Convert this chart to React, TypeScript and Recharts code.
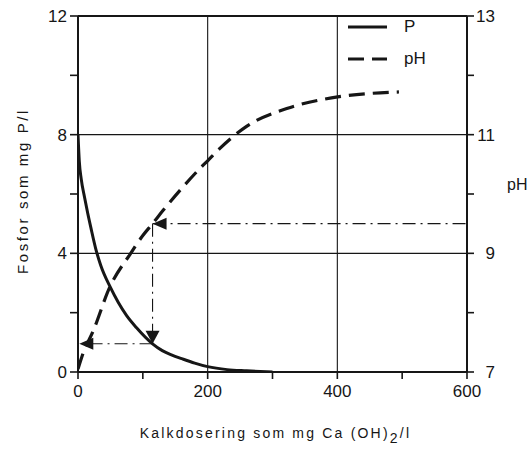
import { ComposedChart, Line, XAxis, YAxis, ReferenceLine, ReferenceDot, Legend, Label } from "recharts"

// lime dose (mg Ca(OH)2/l) and phosphorus (mg P/l)
const doseP = [0, 2, 5, 10, 15, 20, 28, 35, 50, 62, 75, 90, 115, 130, 145, 160, 180, 200, 230, 260, 300]
const phosphorus = [8, 7.1, 6.5, 5.9, 5.35, 4.85, 4.1, 3.6, 2.85, 2.35, 1.9, 1.5, 0.95, 0.72, 0.57, 0.45, 0.3, 0.18, 0.08, 0.04, 0]

// lime dose and pH
const dosePh = [0, 8, 23, 49, 80, 100, 115, 131, 162, 188, 200, 218, 260, 322, 391, 495]
const phValues = [7.05, 7.32, 7.68, 8.43, 8.98, 9.3, 9.5, 9.72, 10.12, 10.43, 10.56, 10.76, 11.14, 11.44, 11.62, 11.72]

const xTicks = [0, 100, 200, 300, 400, 500, 600]
const xLabels = [0, 200, 400, 600]
const pTicks = [0, 2, 4, 6, 8, 10, 12]
const pLabels = [0, 4, 8, 12]
const phTicks = [7, 8, 9, 10, 11, 12, 13]
const phLabels = [7, 9, 11, 13]
const gridX = [200, 400]
const gridP = [4, 8]

// reading example: pH 9.5 -> dose -> P
const readDose = 115
const readPh = 9.5
const readP = 0.95
const readEndDose = 2

const pData = doseP.map((d, i) => ({ dose: d, p: phosphorus[i] }))
const phData = dosePh.map((d, i) => ({ dose: d, ph: phValues[i] }))

const font = '"Liberation Sans", Arial, Helvetica, sans-serif'
const ink = "#161616"
const pToPh = (p: number) => 7 + p / 2

const XTick = (props: any) => {
  const { x, y, payload } = props
  const major = xLabels.includes(payload.value)
  return (
    <g>
      <line x1={x} x2={x} y1={y} y2={y + 7} stroke={ink} strokeWidth={1.6} />
      {major && (
        <text x={x} y={y + 25} textAnchor="middle" fontSize={17} fontFamily={font} fill={ink}>
          {payload.value}
        </text>
      )}
    </g>
  )
}

const LeftTick = (props: any) => {
  const { x, y, payload } = props
  const major = pLabels.includes(payload.value)
  return (
    <g>
      <line x1={x - 8} x2={x} y1={y} y2={y} stroke={ink} strokeWidth={1.6} />
      {major && (
        <text x={x - 11} y={y} dy="0.36em" textAnchor="end" fontSize={17} fontFamily={font} fill={ink}>
          {payload.value}
        </text>
      )}
    </g>
  )
}

const RightTick = (props: any) => {
  const { x, y, payload } = props
  const major = phLabels.includes(payload.value)
  return (
    <g>
      <line x1={x} x2={x + 7} y1={y} y2={y} stroke={ink} strokeWidth={1.6} />
      {major && (
        <text x={x + 28} y={y} dy="0.36em" textAnchor="end" fontSize={17} fontFamily={font} fill={ink}>
          {payload.value}
        </text>
      )}
    </g>
  )
}

const arrow = (dir: "left" | "down") => (props: any) => {
  const { cx, cy } = props
  const pts =
    dir === "left"
      ? `${cx},${cy} ${cx + 14},${cy - 6} ${cx + 14},${cy + 6}`
      : `${cx},${cy} ${cx - 7},${cy - 13} ${cx + 7},${cy - 13}`
  return <polygon points={pts} fill={ink} />
}

const legendItems = [
  { name: "P", dash: undefined },
  { name: "pH", dash: "16 8" },
]

const renderLegend = () => (
  <div style={{ fontFamily: font, fontSize: 17, color: ink }}>
    {legendItems.map((it) => (
      <div key={it.name} style={{ display: "flex", alignItems: "center", height: 32 }}>
        <svg width={42} height={12}>
          <line x1={2} x2={41} y1={6} y2={6} stroke={ink} strokeWidth={3} strokeDasharray={it.dash} />
        </svg>
        <span style={{ marginLeft: 16 }}>{it.name}</span>
      </div>
    ))}
  </div>
)

export default function App() {
  return (
    <div style={{ position: "absolute", left: 0, top: 0, background: "#fff" }}>
      <ComposedChart width={530} height={452} margin={{ top: 16, right: 0, bottom: 0, left: 0 }}>
        <XAxis
          xAxisId="x"
          type="number"
          dataKey="dose"
          domain={[0, 600]}
          ticks={xTicks}
          height={80}
          tickSize={0}
          tickMargin={0}
          tickLine={false}
          tick={<XTick />}
          axisLine={{ stroke: ink, strokeWidth: 2 }}
          allowDataOverflow
        >
          <Label
            content={(p: any) => {
              const vb = p.viewBox
              return (
                <text x={vb.x + vb.width / 2 + 3} y={vb.y + 66} textAnchor="middle" fontSize={14} fontFamily={font} fill={ink} letterSpacing={2.2}>
                  Kalkdosering som mg Ca (OH)
                  <tspan dy={5}>2</tspan>
                  <tspan dy={-5}>/l</tspan>
                </text>
              )
            }}
          />
        </XAxis>
        <YAxis
          yAxisId="p"
          type="number"
          domain={[0, 12]}
          ticks={pTicks}
          width={78}
          tickSize={0}
          tickMargin={0}
          tickLine={false}
          tick={<LeftTick />}
          axisLine={{ stroke: ink, strokeWidth: 2 }}
          allowDataOverflow
        >
          <Label
            content={(p: any) => {
              const vb = p.viewBox
              const cx = 28
              const cy = vb.y + vb.height / 2 - 3
              return (
                <text x={cx} y={cy} transform={`rotate(-90 ${cx} ${cy})`} textAnchor="middle" fontSize={15} fontFamily={font} fill={ink} letterSpacing={2.6}>
                  Fosfor som mg P/l
                </text>
              )
            }}
          />
        </YAxis>
        <YAxis
          yAxisId="ph"
          orientation="right"
          type="number"
          domain={[7, 13]}
          ticks={phTicks}
          width={63}
          tickSize={0}
          tickMargin={0}
          tickLine={false}
          tick={<RightTick />}
          axisLine={{ stroke: ink, strokeWidth: 2 }}
          allowDataOverflow
        >
          <Label
            content={(p: any) => {
              const vb = p.viewBox
              return (
                <text x={vb.x + 40} y={vb.y + 174} fontSize={16} fontFamily={font} fill={ink}>
                  pH
                </text>
              )
            }}
          />
        </YAxis>

        {gridX.map((v) => (
          <ReferenceLine key={`gx${v}`} xAxisId="x" yAxisId="p" x={v} stroke={ink} strokeWidth={1.1} />
        ))}
        {gridP.map((v) => (
          <ReferenceLine key={`gy${v}`} xAxisId="x" yAxisId="p" y={v} stroke={ink} strokeWidth={1.1} />
        ))}
        <ReferenceLine xAxisId="x" yAxisId="p" y={12} stroke={ink} strokeWidth={2} />

        <ReferenceLine
          xAxisId="x"
          yAxisId="ph"
          segment={[{ x: readDose, y: readPh }, { x: 600, y: readPh }]}
          stroke={ink}
          strokeWidth={1.1}
          strokeDasharray="13 5 2 5"
        />
        <ReferenceLine
          xAxisId="x"
          yAxisId="ph"
          segment={[{ x: readDose, y: readPh }, { x: readDose, y: pToPh(readP) }]}
          stroke={ink}
          strokeWidth={1.1}
          strokeDasharray="13 5 2 5"
        />
        <ReferenceLine
          xAxisId="x"
          yAxisId="p"
          segment={[{ x: readDose, y: readP }, { x: readEndDose, y: readP }]}
          stroke={ink}
          strokeWidth={1.1}
          strokeDasharray="13 5 2 5"
        />
        <ReferenceDot xAxisId="x" yAxisId="ph" x={readDose} y={readPh} r={6} shape={arrow("left")} />
        <ReferenceDot xAxisId="x" yAxisId="p" x={readDose} y={readP} r={6} shape={arrow("down")} />
        <ReferenceDot xAxisId="x" yAxisId="p" x={readEndDose} y={readP} r={6} shape={arrow("left")} />

        <Line
          xAxisId="x"
          yAxisId="p"
          data={pData}
          dataKey="p"
          name="P"
          type="monotone"
          stroke={ink}
          strokeWidth={3}
          dot={false}
          isAnimationActive={false}
        />
        <Line
          xAxisId="x"
          yAxisId="ph"
          data={phData}
          dataKey="ph"
          name="pH"
          type="monotone"
          stroke={ink}
          strokeWidth={3.2}
          strokeDasharray="16 8"
          dot={false}
          isAnimationActive={false}
        />
        <Legend
          layout="vertical"
          align="center"
          verticalAlign="middle"
          content={renderLegend}
          wrapperStyle={{ left: 346, top: 11, width: "auto" }}
        />
      </ComposedChart>
    </div>
  )
}
